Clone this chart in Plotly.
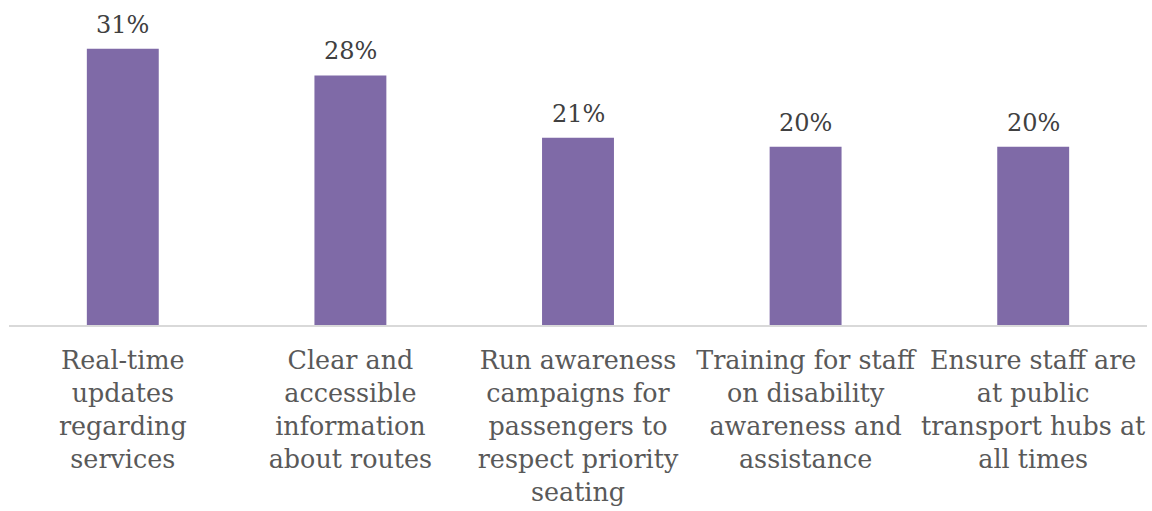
import plotly.graph_objects as go

# Survey results: share of respondents choosing each improvement
categories = [
    "Real-time<br>updates<br>regarding<br>services",
    "Clear and<br>accessible<br>information<br>about routes",
    "Run awareness<br>campaigns for<br>passengers to<br>respect priority<br>seating",
    "Training for staff<br>on disability<br>awareness and<br>assistance",
    "Ensure staff are<br>at public<br>transport hubs at<br>all times",
]
values = [31, 28, 21, 20, 20]
value_labels = ["31%", "28%", "21%", "20%", "20%"]

BAR_COLOR = "#7F6AA7"
FONT = "Georgia, 'DejaVu Serif', 'Liberation Serif', serif"

fig = go.Figure(
    go.Bar(
        x=categories,
        y=values,
        marker=dict(color=BAR_COLOR, line=dict(width=0)),
        hoverinfo="skip",
    )
)

# Percentage labels above each bar
for cat, v, lab in zip(categories, values, value_labels):
    fig.add_annotation(
        x=cat, y=v, xref="x", yref="y",
        text=lab, showarrow=False,
        yanchor="bottom", yshift=8,
        font=dict(family=FONT, size=24, color="#404040"),
    )

fig.update_layout(
    width=1152, height=511,
    margin=dict(l=9, r=5, t=13, b=185.5, pad=0),
    paper_bgcolor="white", plot_bgcolor="white",
    bargap=0.684,
    showlegend=False,
    font=dict(family=FONT, color="#595959"),
)
fig.update_xaxes(
    showline=True, linecolor="#D9D9D9", linewidth=1.5,
    ticks="", showgrid=False,
    tickfont=dict(family=FONT, size=25.4, color="#595959"),
    tickangle=0, ticklabelstandoff=12,
)
fig.update_yaxes(
    range=[0, 35], visible=False, showgrid=False, zeroline=False,
)

fig.write_html("out.html")
